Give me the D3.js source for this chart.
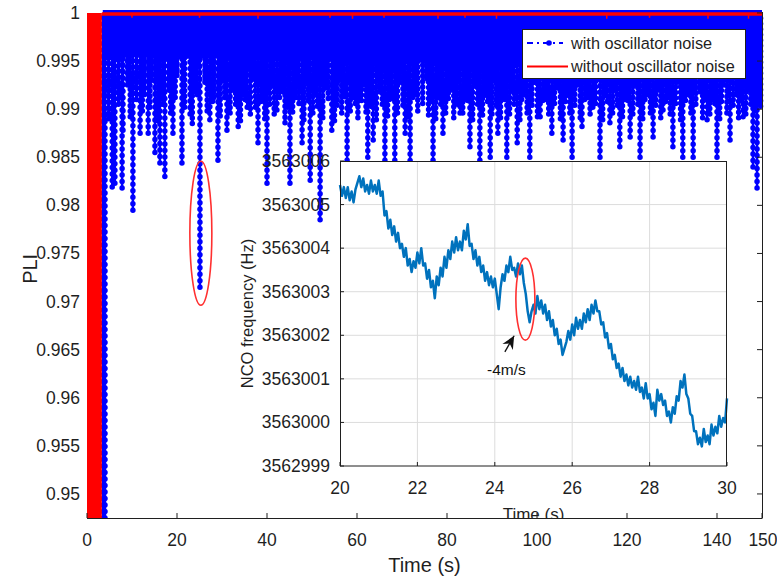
<!DOCTYPE html>
<html>
<head>
<meta charset="utf-8">
<script src="https://cdn.jsdelivr.net/npm/d3@7"></script>
<style>
  body { margin: 0; background: #fff; }
  svg { display: block; font-family: 'Liberation Sans', Arial, sans-serif; }
</style>
</head>
<body>
<svg id="chart" width="777" height="581"></svg>
<script>
// ---------------- data ----------------
const xTicks = [0, 20, 40, 60, 80, 100, 120, 140, 150]
const yTicks = [0.95, 0.955, 0.96, 0.965, 0.97, 0.975, 0.98, 0.985, 0.99, 0.995, 1]
const yTickLabels = ['0.95', '0.955', '0.96', '0.965', '0.97', '0.975', '0.98', '0.985', '0.99', '0.995', '1']

// with oscillator noise: deep dips [time s, lowest PLI]
const blueDips = [
  [3.6, 0.9475], [4.0, 0.9475], [5.6, 0.9819], [6.2, 0.9823], [7.8, 0.9818], [8.0, 0.9878],
  [10.2, 0.9795], [11.8, 0.9875], [13.6, 0.9875], [15.1, 0.9855], [16.2, 0.9844], [17.3, 0.983],
  [19.1, 0.9875], [21.1, 0.9844], [22.9, 0.9895], [25.1, 0.9715], [27.3, 0.9889], [29.1, 0.9847],
  [31.1, 0.9878], [33.6, 0.9882], [35.6, 0.9902], [38.0, 0.9865], [40.0, 0.9823], [42.2, 0.9899],
  [45.1, 0.9823], [47.8, 0.9865], [49.6, 0.9826], [51.8, 0.9785], [54.4, 0.9878], [57.8, 0.9847],
  [60.7, 0.991], [62.4, 0.985], [63.6, 0.9868], [66.2, 0.9847], [68.4, 0.9847], [70.7, 0.9875],
  [71.8, 0.984], [74.0, 0.9958], [76.9, 0.9847], [79.1, 0.9875], [82.9, 0.9896], [85.1, 0.9861],
  [87.3, 0.9847], [89.6, 0.985], [91.3, 0.9875], [93.3, 0.985], [95.6, 0.9865], [98.4, 0.985],
  [100.7, 0.9892], [103.3, 0.9875], [105.8, 0.9868], [107.8, 0.985], [110.0, 0.9882], [112.4, 0.9902],
  [114.0, 0.985], [116.2, 0.9886], [118.4, 0.9861], [120.7, 0.9871], [122.9, 0.985], [125.8, 0.9871],
  [128.0, 0.9899], [130.2, 0.9861], [132.4, 0.985], [134.7, 0.985], [137.8, 0.9889], [140.0, 0.985],
  [142.9, 0.9868], [145.8, 0.9892], [148.0, 0.984], [148.9, 0.9818]
]
// with oscillator noise: middle-depth dips
const blueMidDips = [
  [4.8, 0.989], [7.0, 0.9905], [9.6, 0.9892], [11.0, 0.991], [12.3, 0.9898], [14.0, 0.9902],
  [15.7, 0.9888], [16.8, 0.9905], [18.6, 0.9896], [19.6, 0.9912], [21.7, 0.9902], [23.4, 0.9885],
  [24.5, 0.9915], [26.7, 0.9898], [27.9, 0.9908], [29.6, 0.9893], [30.6, 0.9912], [31.8, 0.9896],
  [33.0, 0.9905], [34.1, 0.9888], [35.1, 0.991], [36.3, 0.9895], [37.4, 0.9902], [38.6, 0.9908],
  [39.5, 0.989], [40.6, 0.9905], [41.6, 0.9895], [42.8, 0.9912], [44.0, 0.9886], [44.6, 0.9902],
  [45.7, 0.9897], [47.1, 0.9906], [48.2, 0.9889], [49.1, 0.9909], [50.2, 0.9896], [51.2, 0.9903],
  [52.4, 0.9891], [53.6, 0.9911], [55.0, 0.9888], [55.6, 0.9904], [56.6, 0.9896], [57.2, 0.9913],
  [58.5, 0.9898], [59.6, 0.9906], [60.2, 0.9891], [61.0, 0.9909], [62.0, 0.9897], [63.0, 0.9903],
  [64.3, 0.9889], [65.6, 0.9905], [66.8, 0.9893], [67.8, 0.9911], [69.0, 0.9896], [70.2, 0.9904],
  [71.3, 0.9892], [72.4, 0.9912], [73.5, 0.9898], [74.6, 0.9906], [75.9, 0.9894], [76.4, 0.9908],
  [77.5, 0.989], [78.6, 0.9905], [79.7, 0.9896], [80.3, 0.9911], [81.5, 0.9891], [82.3, 0.9905],
  [83.5, 0.9896], [84.6, 0.9909], [85.7, 0.9889], [86.8, 0.9905], [87.9, 0.9894], [89.0, 0.9908],
  [90.0, 0.9895], [90.9, 0.9904], [91.9, 0.9891], [92.8, 0.991], [93.9, 0.9895], [94.9, 0.9905],
  [96.2, 0.9889], [96.6, 0.991], [97.8, 0.9896], [98.9, 0.9904], [100.1, 0.9892], [101.3, 0.9909],
  [102.6, 0.9895], [103.9, 0.9906], [105.2, 0.989], [106.3, 0.9908], [107.3, 0.9896], [108.4, 0.9904],
  [109.6, 0.9891], [110.6, 0.991], [111.8, 0.9895], [113.0, 0.9906], [114.6, 0.9889], [115.6, 0.9908],
  [116.8, 0.9896], [117.8, 0.9904], [119.0, 0.9892], [120.2, 0.9909], [121.3, 0.9895], [122.4, 0.9905],
  [123.5, 0.989], [124.0, 0.991], [125.2, 0.9896], [126.4, 0.9904], [127.5, 0.9891], [128.6, 0.9908],
  [129.6, 0.9895], [130.8, 0.9906], [131.9, 0.9889], [133.0, 0.9909], [134.2, 0.9896], [135.3, 0.9905],
  [136.8, 0.9891], [137.3, 0.991], [138.4, 0.9895], [139.5, 0.9906], [140.6, 0.989], [141.0, 0.9908],
  [142.2, 0.9896], [143.6, 0.9904], [144.8, 0.9891], [145.3, 0.9909], [146.4, 0.9895], [147.5, 0.9905],
  [148.5, 0.9898], [149.7, 0.9903]
]
// with oscillator noise: shallow dips
const blueShallowDips = [
  [9.0, 0.9925], [12.7, 0.9915], [14.4, 0.993], [18.2, 0.992], [20.0, 0.9935], [23.9, 0.9918],
  [26.2, 0.9928], [28.2, 0.9912], [30.0, 0.993], [32.3, 0.992], [34.6, 0.9915], [36.8, 0.9932],
  [39.0, 0.991], [41.0, 0.9925], [43.5, 0.9918], [46.4, 0.9912], [48.7, 0.9928], [50.6, 0.9915],
  [53.0, 0.9922], [56.0, 0.993], [59.0, 0.9912], [61.5, 0.9925], [65.0, 0.9918], [67.2, 0.991],
  [69.5, 0.9928], [72.9, 0.9915], [75.5, 0.9932], [78.0, 0.9912], [80.9, 0.992], [84.0, 0.991],
  [86.2, 0.9925], [88.4, 0.9915], [90.4, 0.993], [92.3, 0.9912], [94.4, 0.992], [97.0, 0.9915],
  [99.5, 0.9928], [102.0, 0.991], [104.6, 0.9922], [106.8, 0.9915], [109.0, 0.9925], [111.2, 0.9912],
  [113.2, 0.993], [115.1, 0.9915], [117.3, 0.992], [119.6, 0.991], [121.8, 0.9925], [124.4, 0.9915],
  [127.0, 0.992], [129.1, 0.9912], [131.3, 0.9928], [133.6, 0.9915], [136.2, 0.9918], [139.0, 0.991],
  [141.5, 0.9925], [144.3, 0.9915], [147.0, 0.992], [149.5, 0.9905]
]
// lower edge of the dense blue band
const blueBandFloor = [
  [3.5, 0.995], [10, 0.9955], [20, 0.9952], [30, 0.9954], [40, 0.995], [50, 0.9951], [60, 0.9947],
  [70, 0.995], [80, 0.9946], [90, 0.9944], [100, 0.9946], [110, 0.9943], [120, 0.9942], [130, 0.9942],
  [140, 0.994], [150, 0.9938]
]

// without oscillator noise
const redTransientEnd = 3.3
const redLevel = 0.9999
const redDips = [
  [10, 0.9995], [25, 0.9995], [38, 0.9994], [54, 0.9995], [59, 0.9994], [66, 0.9995], [78, 0.9994],
  [84, 0.9995], [91, 0.9994], [115.5, 0.9994], [125, 0.9995], [138, 0.9994], [147, 0.9994]
]

// inset: NCO frequency, 20 s .. 30 s every 0.05 s (offset above 3563000 Hz)
const ncoBaseHz = 3563000
const ncoStart = 20
const ncoStep = 0.05
const ncoOffsetHz = [
  5.45, 5.2, 5.4, 5.15, 5.4, 5.1, 5.3, 5.05, 5.35, 5.5,
  5.65, 5.4, 5.6, 5.3, 5.45, 5.25, 5.55, 5.3, 5.45, 5.25,
  5.55, 5.2, 5.3, 4.75, 4.85, 4.45, 4.65, 4.3, 4.5, 4.15,
  4.35, 4.0, 4.1, 3.8, 4.0, 3.6, 3.75, 3.45, 3.7, 3.55,
  3.9, 3.65, 4.0, 3.6, 3.65, 3.3, 3.5, 3.1, 3.25, 2.85,
  3.35, 3.15, 3.55, 3.35, 3.8, 3.55, 3.95, 3.75, 4.15, 3.9,
  4.25, 3.95, 4.15, 3.95, 4.4, 4.2, 4.55, 4.05, 4.1, 3.75,
  3.95, 3.6, 3.8, 3.45, 3.6, 3.25, 3.45, 3.15, 3.35, 3.1,
  3.3, 2.95, 2.6, 3.1, 3.4, 3.25, 3.6, 3.45, 3.8, 3.5,
  3.55, 3.35, 3.65, 3.4, 3.6, 3.2, 2.95, 2.55, 2.3, 2.55,
  2.7, 2.5, 2.9, 2.6, 2.8, 2.5, 2.7, 2.35, 2.55, 2.2,
  2.35, 2.0, 2.15, 1.8, 1.9, 1.55, 1.7, 1.85, 2.1, 1.9,
  2.25, 2.0, 2.4, 2.15, 2.35, 2.15, 2.5, 2.3, 2.6, 2.35,
  2.7, 2.5, 2.8, 2.55, 2.55, 2.25, 2.3, 1.95, 2.05, 1.7,
  1.8, 1.45, 1.55, 1.25, 1.35, 1.05, 1.25, 0.95, 1.1, 0.85,
  1.05, 0.8, 0.95, 0.75, 1.05, 0.7, 0.8, 0.55, 0.9, 0.55,
  0.65, 0.3, 0.45, 0.15, 0.75, 0.5, 0.65, 0.4, 0.5, 0.15,
  0.25, 0.0, 0.35, 0.2, 0.6, 0.5, 0.95, 0.8, 1.1, 0.65,
  0.55, 0.2, 0.15, -0.2, -0.2, -0.5, -0.35, -0.55, -0.15, -0.45,
  -0.3, -0.5, -0.05, -0.3, -0.1, -0.25, 0.15, -0.1, 0.1, 0.0,
  0.55
]
const insetXTicks = [20, 22, 24, 26, 28, 30]
const insetYTicks = [3562999, 3563000, 3563001, 3563002, 3563003, 3563004, 3563005, 3563006]

// ---------------- main chart ----------------
const svg = d3.select('#chart')
const axisColor = '#1f1f1f'
const blue = '#0000ff'
const red = '#ff0000'

const x = d3.scaleLinear().domain([0, 150]).range([87, 762])
const y = d3.scaleLinear().domain([0.9475, 1.0001]).range([518, 12])

svg.append('clipPath').attr('id', 'mainClip')
  .append('rect').attr('x', 86).attr('y', 4).attr('width', 680).attr('height', 514)

const series = svg.append('g').attr('clip-path', 'url(#mainClip)')

// dense band near 1
series.append('path')
  .datum(blueBandFloor)
  .attr('d', d3.area().x(d => x(d[0])).y0(d => y(d[1])).y1(y(1)))
  .attr('fill', blue)

series.append('line')
  .attr('x1', x(3.5)).attr('x2', x(150)).attr('y1', y(1)).attr('y2', y(1))
  .attr('stroke', blue).attr('stroke-width', 6)

const drawDips = function (data, width, gap) {
  const g = series.append('g')
  g.selectAll('line.stem')
    .data(data)
    .join('line')
    .attr('class', 'stem')
    .attr('x1', d => x(d[0])).attr('x2', d => x(d[0]))
    .attr('y1', y(1)).attr('y2', d => y(d[1]))
    .attr('stroke', blue).attr('stroke-width', width)
  g.selectAll('line.dots')
    .data(data)
    .join('line')
    .attr('class', 'dots')
    .attr('x1', d => x(d[0])).attr('x2', d => x(d[0]))
    .attr('y1', d => y(d[1])).attr('y2', y(1))
    .attr('stroke', blue).attr('stroke-width', 5.5)
    .attr('stroke-linecap', 'round').attr('stroke-dasharray', '0 ' + gap)
}
drawDips(blueShallowDips, 4, 6)
drawDips(blueMidDips, 3, 5.5)
drawDips(blueDips, 2.5, 6.5)

// red: transient and steady line
series.append('path')
  .datum([[0], [redTransientEnd]])
  .attr('d', d3.area().x(d => x(d[0])).y0(y(0.9475)).y1(y(1)))
  .attr('fill', red)

series.append('line')
  .attr('x1', x(redTransientEnd)).attr('x2', x(150))
  .attr('y1', y(redLevel)).attr('y2', y(redLevel))
  .attr('stroke', red).attr('stroke-width', 3.5)

series.selectAll('line.reddip')
  .data(redDips)
  .join('line')
  .attr('class', 'reddip')
  .attr('x1', d => x(d[0])).attr('x2', d => x(d[0]))
  .attr('y1', y(redLevel)).attr('y2', d => y(d[1]))
  .attr('stroke', red).attr('stroke-width', 1.5)

// highlight ellipse
svg.append('ellipse')
  .attr('cx', x(25.3)).attr('cy', y(0.9771))
  .attr('rx', 11).attr('ry', 72)
  .attr('fill', 'none').attr('stroke', '#ff3030').attr('stroke-width', 1.6)

// axes box
const axes = svg.append('g').attr('stroke', axisColor).attr('stroke-width', 1)
axes.append('line').attr('x1', 87).attr('x2', 762).attr('y1', 518.5).attr('y2', 518.5)
axes.append('line').attr('x1', 762.5).attr('x2', 762.5).attr('y1', 12).attr('y2', 518.5)
axes.selectAll('line.xt')
  .data(xTicks)
  .join('line')
  .attr('class', 'xt')
  .attr('x1', d => x(d)).attr('x2', d => x(d))
  .attr('y1', 518).attr('y2', 513)
axes.selectAll('line.yt')
  .data(yTicks)
  .join('line')
  .attr('class', 'yt')
  .attr('x1', 762).attr('x2', 757)
  .attr('y1', d => y(d)).attr('y2', d => y(d))

svg.append('g')
  .selectAll('text')
  .data(xTicks)
  .join('text')
  .attr('x', d => x(d) + (d === 150 ? 1 : 0))
  .attr('y', 546)
  .attr('text-anchor', 'middle')
  .attr('font-size', 17.5)
  .attr('fill', axisColor)
  .text(d => d)

svg.append('g')
  .selectAll('text')
  .data(yTicks)
  .join('text')
  .attr('x', 80)
  .attr('y', d => y(d) + 6)
  .attr('text-anchor', 'end')
  .attr('font-size', 17.5)
  .attr('fill', axisColor)
  .text((d, i) => yTickLabels[i])

svg.append('text')
  .attr('x', x(75)).attr('y', 572)
  .attr('text-anchor', 'middle')
  .attr('font-size', 20)
  .attr('fill', axisColor)
  .text('Time (s)')

svg.append('text')
  .attr('transform', 'translate(37,' + y(0.9734) + ') rotate(-90)')
  .attr('text-anchor', 'middle')
  .attr('font-size', 20)
  .attr('fill', axisColor)
  .text('PLI')

// legend
const legend = svg.append('g')
legend.append('rect')
  .attr('x', 522.5).attr('y', 29.5).attr('width', 223).attr('height', 49)
  .attr('fill', '#fff').attr('stroke', axisColor).attr('stroke-width', 1)
legend.append('line')
  .attr('x1', 527).attr('x2', 563).attr('y1', 43).attr('y2', 43)
  .attr('stroke', blue).attr('stroke-width', 2).attr('stroke-dasharray', '6 4 2 4')
legend.append('circle').attr('cx', 549).attr('cy', 43).attr('r', 2.8).attr('fill', blue)
legend.append('line')
  .attr('x1', 527).attr('x2', 568).attr('y1', 66.5).attr('y2', 66.5)
  .attr('stroke', red).attr('stroke-width', 2)
legend.append('text')
  .attr('x', 571).attr('y', 48.5).attr('font-size', 16.3).attr('fill', axisColor)
  .text('with oscillator noise')
legend.append('text')
  .attr('x', 571).attr('y', 72).attr('font-size', 16.3).attr('fill', axisColor)
  .text('without oscillator noise')

// ---------------- inset ----------------
const ix = d3.scaleLinear().domain([20, 30]).range([340, 727])
const iy = d3.scaleLinear().domain([3562999, 3563006]).range([466, 161])

const inset = svg.append('g')
inset.append('rect')
  .attr('x', 340).attr('y', 161).attr('width', 387).attr('height', 305)
  .attr('fill', '#fff')

inset.append('g')
  .selectAll('line')
  .data(insetXTicks.slice(1, -1))
  .join('line')
  .attr('x1', d => ix(d)).attr('x2', d => ix(d))
  .attr('y1', 161).attr('y2', 466)
  .attr('stroke', '#dcdcdc').attr('stroke-width', 1)
inset.append('g')
  .selectAll('line')
  .data(insetYTicks.slice(1, -1))
  .join('line')
  .attr('x1', 340).attr('x2', 727)
  .attr('y1', d => iy(d)).attr('y2', d => iy(d))
  .attr('stroke', '#dcdcdc').attr('stroke-width', 1)

const ncoLine = d3.line()
  .x((d, i) => ix(ncoStart + i * ncoStep))
  .y(d => iy(ncoBaseHz + d))

inset.append('path')
  .datum(ncoOffsetHz)
  .attr('d', ncoLine)
  .attr('fill', 'none')
  .attr('stroke', '#0072bd')
  .attr('stroke-width', 2.5)
  .attr('stroke-linejoin', 'round')

inset.append('rect')
  .attr('x', 340.5).attr('y', 161.5).attr('width', 386).attr('height', 304.5)
  .attr('fill', 'none').attr('stroke', axisColor).attr('stroke-width', 1)

inset.append('g')
  .selectAll('line')
  .data(insetXTicks)
  .join('line')
  .attr('x1', d => ix(d)).attr('x2', d => ix(d))
  .attr('y1', 466).attr('y2', 462)
  .attr('stroke', axisColor)
inset.append('g')
  .selectAll('line')
  .data(insetYTicks)
  .join('line')
  .attr('x1', 340).attr('x2', 344)
  .attr('y1', d => iy(d)).attr('y2', d => iy(d))
  .attr('stroke', axisColor)

inset.append('g')
  .selectAll('text')
  .data(insetXTicks)
  .join('text')
  .attr('x', d => ix(d))
  .attr('y', 494)
  .attr('text-anchor', 'middle')
  .attr('font-size', 17.5)
  .attr('fill', axisColor)
  .text(d => d)
inset.append('g')
  .selectAll('text')
  .data(insetYTicks)
  .join('text')
  .attr('x', 330)
  .attr('y', d => iy(d) + 6)
  .attr('text-anchor', 'end')
  .attr('font-size', 17.5)
  .attr('fill', axisColor)
  .text(d => d3.format('d')(d))

svg.append('clipPath').attr('id', 'insetLabelClip')
  .append('rect').attr('x', 0).attr('y', 0).attr('width', 777).attr('height', 518)
inset.append('text')
  .attr('clip-path', 'url(#insetLabelClip)')
  .attr('x', ix(25)).attr('y', 520)
  .attr('text-anchor', 'middle')
  .attr('font-size', 17)
  .attr('fill', axisColor)
  .text('Time (s)')

inset.append('text')
  .attr('transform', 'translate(253,' + iy(3563002.5) + ') rotate(-90)')
  .attr('text-anchor', 'middle')
  .attr('font-size', 16.5)
  .attr('fill', axisColor)
  .text('NCO frequency (Hz)')

// inset annotation
inset.append('ellipse')
  .attr('cx', ix(24.79)).attr('cy', iy(3563002.83))
  .attr('rx', 9.5).attr('ry', 41)
  .attr('fill', 'none').attr('stroke', '#ff3030').attr('stroke-width', 1.6)

const tip = [ix(24.5), iy(3563001.99)]
const tail = [ix(24.26), iy(3563001.62)]
const ang = Math.atan2(tip[1] - tail[1], tip[0] - tail[0]) * 180 / Math.PI
inset.append('line')
  .attr('x1', tail[0]).attr('y1', tail[1]).attr('x2', tip[0]).attr('y2', tip[1])
  .attr('stroke', '#111').attr('stroke-width', 1.3)
inset.append('path')
  .attr('transform', 'translate(' + tip + ') rotate(' + ang + ')')
  .attr('d', 'M0,0 L-13,-6 L-9,0 L-13,6 Z')
  .attr('fill', '#111')
inset.append('text')
  .attr('x', ix(24.3)).attr('y', 375)
  .attr('text-anchor', 'middle')
  .attr('font-size', 15.5)
  .attr('fill', '#111')
  .text('-4m/s')
</script>
</body>
</html>
